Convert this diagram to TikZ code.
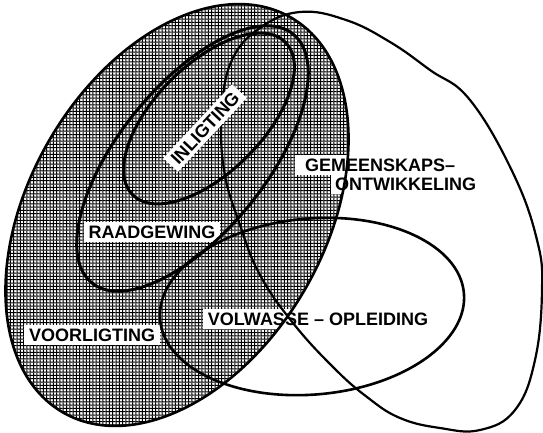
\documentclass[tikz,border=0pt]{standalone}
\usepackage{fontspec}
\setmainfont{Liberation Sans}
\usetikzlibrary{patterns}

% halftone screen of the shaded field
\pgfdeclarepatternformonly{halftone}{\pgfqpoint{-0.1pt}{-0.1pt}}{\pgfqpoint{3.4pt}{3.4pt}}{\pgfqpoint{3.3pt}{3.3pt}}{%
  \pgfpathrectangle{\pgfpointorigin}{\pgfqpoint{3.3pt}{1pt}}%
  \pgfpathrectangle{\pgfpointorigin}{\pgfqpoint{1pt}{3.3pt}}%
  \pgfusepath{fill}}

\tikzset{
  ring/.style={line width=2.6pt},
  thickring/.style={line width=3pt},
  thinring/.style={line width=2.2pt},
  lbl/.style={fill=white, inner xsep=5pt, inner ysep=3.5pt, text height=13pt, text depth=0pt,
    font=\bfseries\fontsize{18}{18.5}\selectfont}
}

\begin{document}
\begin{tikzpicture}[x=1pt, y=-1pt]
  \useasboundingbox (0,0) rectangle (543,432);

  % voorligting field
  \fill[pattern=halftone, rotate around={60:(177,215)}] (177,215) ellipse [x radius=228, y radius=148];

  % labels under the lines
  \node[lbl] (voor) at (92,335) {VOORLIGTING};
  \node[lbl] (raad) at (152,232) {RAADGEWING};
  \node[lbl] (volw) at (318,319) {VOLWASSE -- OPLEIDING};
  \node[lbl, anchor=west, inner xsep=10pt] (gem1) at (295,165) {GEMEENSKAPS--};
  \node[lbl, anchor=west, inner xsep=4pt] (gem2) at (331,184) {ONTWIKKELING};

  % the rings
  \draw[ring, rotate around={60:(177,215)}] (177,215) ellipse [x radius=228, y radius=148];
  \draw[thickring, rotate around={51:(192.5,158.5)}] (192.5,158.5) ellipse [x radius=160, y radius=73.5];
  \draw[thickring, rotate around={45:(209,118.5)}] (209,118.5) ellipse [x radius=108, y radius=54];
  \draw[ring, rotate around={5:(312,306.5)}] (312,306.5) ellipse [x radius=152.5, y radius=88];
  \draw[thinring] plot[smooth cycle, tension=0.7] coordinates {
    (300,12) (346,20) (390,42) (430,70) (470,100) (513,173) (537,240) (542,290)
    (535,360) (515,410) (480,430) (440,428) (400,418) (367,397) (333,367) (293,323)
    (260,275) (240,225) (224,170) (222,110) (232,60) (260,28)};

  % label over the lines
  \node[lbl, rotate=47] (inlig) at (205,128) {INLIGTING\hspace{14pt}};
\end{tikzpicture}
\end{document}
